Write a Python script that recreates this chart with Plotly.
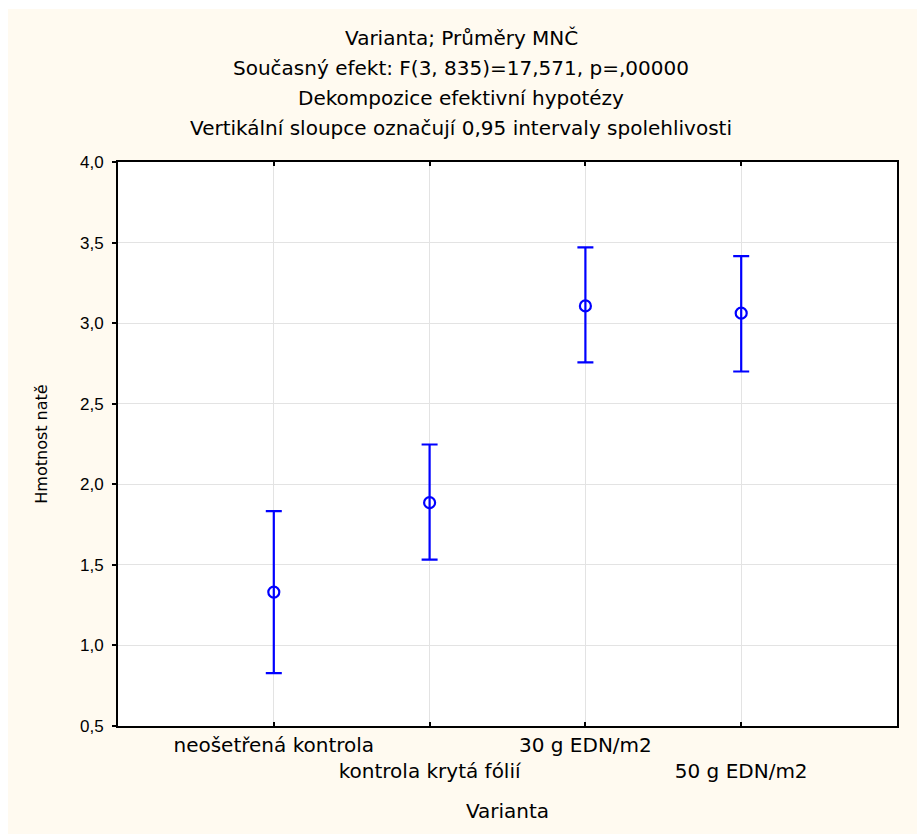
import plotly.graph_objects as go

categories = ["neošetřená kontrola", "kontrola krytá fólií", "30 g EDN/m2", "50 g EDN/m2"]
means = [1.331, 1.886, 3.107, 3.062]
ci_upper = [1.834, 2.247, 3.470, 3.416]
ci_lower = [0.828, 1.532, 2.756, 2.700]
y_ticks = [0.5, 1.0, 1.5, 2.0, 2.5, 3.0, 3.5, 4.0]
y_tick_labels = ["0,5", "1,0", "1,5", "2,0", "2,5", "3,0", "3,5", "4,0"]
title_lines = [
    "Varianta; Průměry MNČ",
    "Současný efekt: F(3, 835)=17,571, p=,00000",
    "Dekompozice efektivní hypotézy",
    "Vertikální sloupce označují 0,95 intervaly spolehlivosti",
]

W, H = 917, 834
L, R, T, B = 118, 897, 162, 726
CREAM = "#fffaf0"
BLUE = "#0000ff"
TXT = "DejaVu Sans, Liberation Sans, Arial"
SANS = "Liberation Sans, Arial, sans-serif"

xs = list(range(len(categories)))
err_plus = [u - m for u, m in zip(ci_upper, means)]
err_minus = [m - l for m, l in zip(means, ci_lower)]

fig = go.Figure()
fig.add_trace(go.Scatter(
    x=xs, y=means, mode="markers",
    marker=dict(symbol="circle-open", size=11, color=BLUE, line=dict(width=2.2, color=BLUE)),
    error_y=dict(type="data", symmetric=False, array=err_plus, arrayminus=err_minus,
                 color=BLUE, thickness=2.2, width=8),
    showlegend=False, cliponaxis=False,
))

def px(xp):
    return (xp - L) / (R - L)

def py(yp):
    return (B - yp) / (B - T)

# white outer border strips (cream panel starts at x=8, y=9)
fig.add_shape(type="rect", xref="paper", yref="paper", x0=px(0), x1=px(W), y0=py(0), y1=py(9),
              fillcolor="white", line=dict(width=0), layer="below")
fig.add_shape(type="rect", xref="paper", yref="paper", x0=px(0), x1=px(8), y0=py(0), y1=py(H),
              fillcolor="white", line=dict(width=0), layer="below")

title_y = [38, 68, 98, 128]
for txt, yy in zip(title_lines, title_y):
    fig.add_annotation(text=txt, xref="paper", yref="paper", x=px(461), y=py(yy),
                       xanchor="center", yanchor="middle", showarrow=False,
                       font=dict(family=TXT, size=20, color="black"))

ticktext = [c if i % 2 == 0 else "<br>" + c for i, c in enumerate(categories)]

fig.update_layout(
    width=W, height=H,
    margin=dict(l=L, r=W - R, t=T, b=H - B, pad=0),
    paper_bgcolor=CREAM, plot_bgcolor="white",
    xaxis=dict(range=[-1, 4], tickvals=xs, ticktext=ticktext, tickangle=0, automargin=False,
               showgrid=True, gridcolor="#e3e3e3", gridwidth=1, zeroline=False,
               showline=True, linecolor="black", linewidth=2, mirror="ticks",
               ticks="inside", ticklen=4, tickcolor="black", tickwidth=2,
               tickfont=dict(family=TXT, size=20, color="black"),
               title=dict(text="Varianta", font=dict(family=TXT, size=20, color="black"), standoff=22)),
    yaxis=dict(range=[0.5, 4.0], tickvals=y_ticks, ticktext=y_tick_labels, automargin=False,
               showgrid=True, gridcolor="#e3e3e3", gridwidth=1, zeroline=False,
               showline=True, linecolor="black", linewidth=2, mirror=True,
               ticks="outside", ticklen=4, tickcolor="black", tickwidth=2,
               ticklabelstandoff=5,
               tickfont=dict(family=SANS, size=17, color="black"),
               title=dict(text="Hmotnost natě", font=dict(family=TXT, size=16, color="black"), standoff=28)),
)

fig.write_html("out.html")
